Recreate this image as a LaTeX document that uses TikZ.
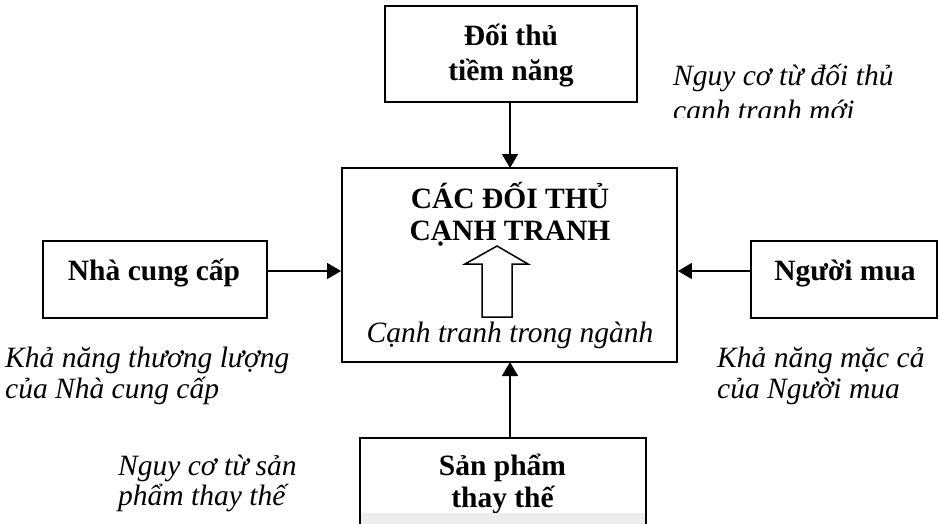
\documentclass[tikz,border=0pt]{standalone}
\usepackage{fontspec}
\setmainfont{Liberation Serif}
\usetikzlibrary{arrows.meta}
\newcommand\ctwo[2]{\vtop{\halign{\hfil##\hfil\cr #1\cr #2\cr}}}
\newcommand\ltwo[2]{\vtop{\halign{##\hfil\cr #1\cr #2\cr}}}
\begin{document}
\begin{tikzpicture}[x=1pt,y=-1pt,
  boxframe/.style={draw, line width=1.9pt, inner sep=0pt},
  btext/.style={font=\fontsize{29.5}{32}\selectfont\bfseries, inner sep=0pt, anchor=base},
  itext/.style={font=\fontsize{29.5}{31}\selectfont\itshape, inner sep=0pt, anchor=base west},
  conn/.style={line width=1.6pt, -{Triangle[length=14pt,width=16pt]}}]
\useasboundingbox (0,0) rectangle (939,523);
% boxes
\node[boxframe, minimum width=252pt, minimum height=96pt] (top) at (511,54) {};
\node[boxframe, minimum width=335pt, minimum height=194pt] (mid) at (509.5,265) {};
\node[boxframe, minimum width=224pt, minimum height=77pt] (left) at (155,279.5) {};
\node[boxframe, minimum width=186pt, minimum height=77pt] (right) at (844,279.5) {};
\node[boxframe, minimum width=286pt, minimum height=120pt] (bot) at (503,498) {};
% box texts
\node[btext, font=\fontsize{29.5}{35}\selectfont\bfseries] (toptxt) at (511,45) {\ctwo{Đối thủ}{tiềm năng}};
\node[btext] (midtxt) at (510,208) {\ctwo{CÁC ĐỐI THỦ}{CẠNH TRANH}};
\node[btext] (lefttxt) at (154,280) {Nhà cung cấp};
\node[btext] (righttxt) at (845,280) {Người mua};
\node[btext] (bottxt) at (502.5,475) {\ctwo{Sản phẩm}{thay thế}};
\node[itext, anchor=base] (midital) at (510,342) {Cạnh tranh trong ngành};
% hollow arrow
\draw[line width=1.5pt, line join=miter] (482,317) -- (482,264) -- (465,264) -- (497,246) -- (528,264) -- (512,264) -- (512,317) -- cycle;
% connectors
\coordinate (tA) at (510,102);
\coordinate (tB) at (510,168);
\draw[conn] (tA) -- (tB);
\coordinate (bA) at (510,438);
\coordinate (bB) at (510,362);
\draw[conn] (bA) -- (bB);
\draw[conn] (left.east |- 0,271) -- (mid.west |- 0,271);
\draw[conn] (right.west |- 0,271) -- (mid.east |- 0,271);
% side labels
\begin{scope}
\clip (660,0) rectangle (939,117.7);
\node[itext, font=\fontsize{29.5}{35}\selectfont\itshape] (trtxt) at (673,85) {\ltwo{Nguy cơ từ đối thủ}{cạnh tranh mới}};
\end{scope}
\node[itext] (ltxt) at (5,367) {\ltwo{Khả năng thương lượng}{của Nhà cung cấp}};
\node[itext] (rtxt) at (717,367) {\ltwo{Khả năng mặc cả}{của Người mua}};
\node[itext, font=\fontsize{29.5}{30}\selectfont\itshape] (bltxt) at (118,475) {\ltwo{Nguy cơ từ sản}{phẩm thay thế}};
% cropped band at bottom
\fill[black!7] (361,512.5) rectangle (645,524);
\end{tikzpicture}
\end{document}
